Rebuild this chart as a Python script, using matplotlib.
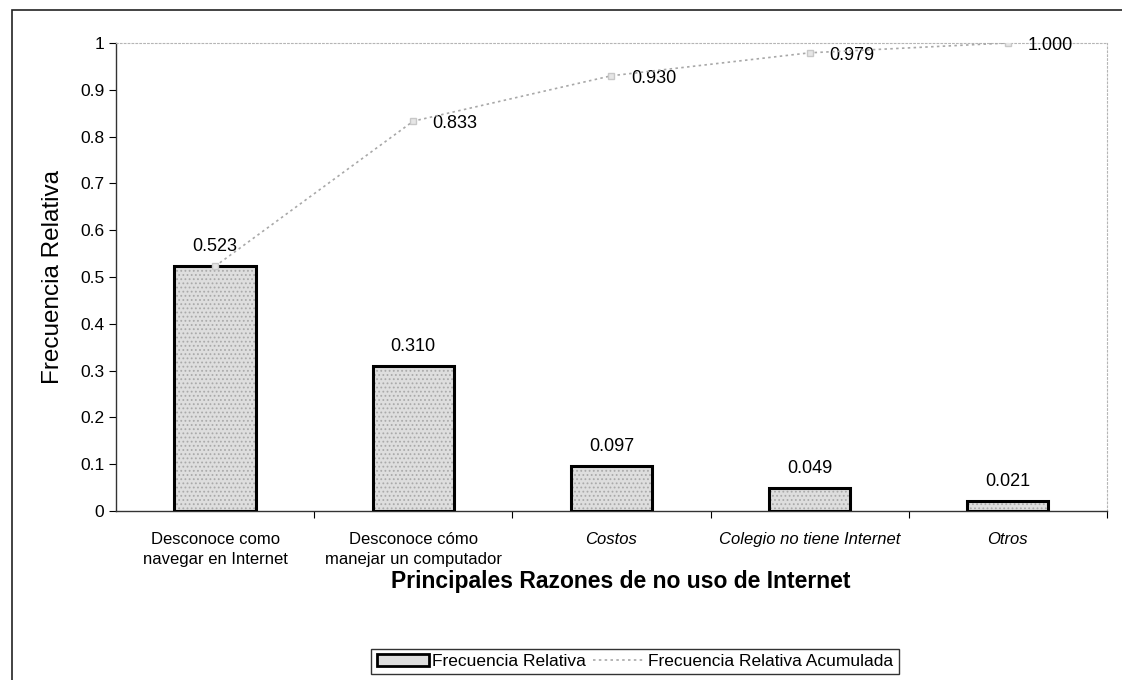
#!/usr/bin/env python3
"""Pareto chart: principales razones de no uso de Internet."""

import matplotlib

matplotlib.use("Agg")
import matplotlib.pyplot as plt  # noqa: E402
from matplotlib.lines import Line2D  # noqa: E402
from matplotlib.patches import Patch, Rectangle  # noqa: E402
from matplotlib.ticker import FixedLocator, FuncFormatter  # noqa: E402

categories = [
    "Desconoce como\nnavegar en Internet",
    "Desconoce cómo\nmanejar un computador",
    "Costos",
    "Colegio no tiene Internet",
    "Otros",
]
italic_labels = [False, False, True, True, True]
relative_freq = [0.523, 0.310, 0.097, 0.049, 0.021]
cumulative_freq = [0.523, 0.833, 0.930, 0.979, 1.000]
y_ticks = [0, 0.1, 0.2, 0.3, 0.4, 0.5, 0.6, 0.7, 0.8, 0.9, 1.0]

plt.rcParams["font.family"] = ["Liberation Sans", "DejaVu Sans"]
plt.rcParams["hatch.linewidth"] = 0.8

fig = plt.figure(figsize=(11.22, 6.8), dpi=100)
ax = fig.add_axes([0.1034, 0.2485, 0.8832, 0.6883])

# outer chart frame
fig.patches.append(Rectangle((0.011, -0.02), 1.2, 1.005, transform=fig.transFigure,
                             fill=False, edgecolor="#222222", linewidth=1.2))

x = list(range(len(categories)))
# stippled fill, then the black outline on top
ax.bar(x, relative_freq, width=0.41, facecolor="#dedede", edgecolor="#aaaaaa", linewidth=0,
       hatch="....", zorder=2)
ax.bar(x, relative_freq, width=0.41, facecolor="none", edgecolor="black", linewidth=2.2, zorder=3)
for xi, v in zip(x, relative_freq):
    ax.annotate(f"{v:.3f}", (xi, v), xytext=(0, 8), textcoords="offset points",
                ha="center", va="bottom", fontsize=13)

ax.plot(x, cumulative_freq, linestyle=(0, (1.5, 2)), color="#a8a8a8", linewidth=1.2,
        marker="s", markersize=4, markerfacecolor="#e6e6e6", markeredgecolor="#c8c8c8", zorder=4)
for xi, v in list(zip(x, cumulative_freq))[1:]:
    ax.annotate(f"{v:.3f}", (xi, v), xytext=(14, -2), textcoords="offset points",
                ha="left", va="center", fontsize=13)

ax.set_xlim(-0.5, len(categories) - 0.5)
ax.set_ylim(0, 1)
ax.yaxis.set_major_locator(FixedLocator(y_ticks))
ax.yaxis.set_major_formatter(FuncFormatter(lambda v, _: f"{v:g}"))
ax.tick_params(axis="y", labelsize=12.5, length=5, direction="out")

ax.set_xticks([i + 0.5 for i in x])
ax.set_xticklabels([])
ax.tick_params(axis="x", which="major", length=5, direction="out")
ax.set_xticks(x, minor=True)
ax.set_xticklabels(categories, minor=True, fontsize=12, linespacing=1.4)
for lab, it in zip(ax.get_xticklabels(minor=True), italic_labels):
    if it:
        lab.set_fontstyle("italic")
ax.tick_params(axis="x", which="minor", length=0, pad=15)

for side in ("top", "right"):
    ax.spines[side].set_color("#b5b5b5")
    ax.spines[side].set_linestyle((0, (1.5, 2)))
for side in ("left", "bottom"):
    ax.spines[side].set_color("#333333")
    ax.spines[side].set_linewidth(1.0)

fig.text(0.047, 0.593, "Frecuencia Relativa", rotation=90, ha="center", va="center", fontsize=17.5)
fig.text(0.553, 0.145, "Principales Razones de no uso de Internet", ha="center", va="center",
         fontsize=16.5, fontweight="bold")

handles = [
    Patch(facecolor="#dedede", edgecolor="black", linewidth=2),
    Line2D([0], [0], linestyle=(0, (1.5, 2)), color="#a8a8a8", linewidth=1.2),
]
leg = fig.legend(handles, ["Frecuencia Relativa", "Frecuencia Relativa Acumulada"],
                 loc="center", bbox_to_anchor=(0.566, 0.027), ncol=2, fontsize=12.5,
                 frameon=True, fancybox=False, edgecolor="black", handlelength=3.0,
                 handletextpad=0.2, columnspacing=0.4, borderpad=0.3, borderaxespad=0)
leg.get_frame().set_linewidth(1.0)

fig.savefig("out.png", dpi=100)
plt.close(fig)
